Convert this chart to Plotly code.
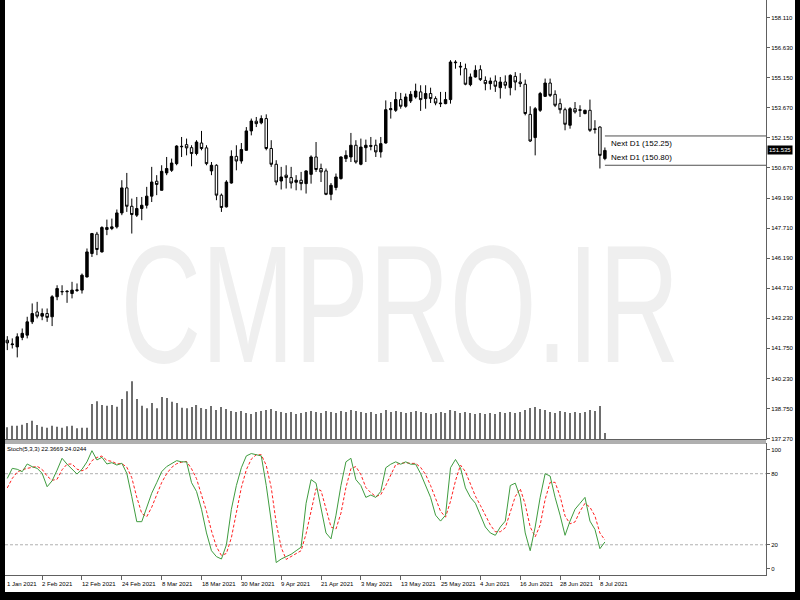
import plotly.graph_objects as go
import pandas as pd

# ---------------- data ----------------
open_ = [142.14,141.92,141.81,142.28,142.39,143.05,143.54,143.33,143.46,143.30,
         144.29,144.55,144.54,144.45,144.60,144.62,145.27,146.43,147.39,146.51,
         147.72,147.67,147.75,148.44,149.68,148.77,148.33,148.66,148.82,149.27,
         150.01,149.56,150.42,150.55,150.88,151.74,151.82,151.67,151.38,151.90,
         151.66,150.52,150.80,149.32,148.74,149.92,151.24,151.01,151.54,152.50,
         152.98,152.90,153.11,151.63,150.85,150.02,150.31,150.19,149.96,150.06,
         149.89,150.35,151.21,150.64,150.52,149.36,149.70,150.14,151.13,151.21,
         151.79,150.85,151.67,151.78,151.79,151.46,151.90,153.55,153.52,154.05,
         153.72,153.98,154.18,154.43,154.10,154.35,154.10,153.88,153.85,154.05,
         155.91,155.70,155.58,154.79,155.17,155.53,155.00,154.84,154.97,154.64,
         154.92,154.64,155.20,154.92,154.81,153.32,152.17,153.52,154.21,154.87,
         154.31,153.85,153.55,152.78,153.60,153.55,153.36,153.52,152.61,152.69,
         151.13]
high = [142.34,142.23,142.48,142.72,143.30,143.96,144.04,143.71,143.71,144.37,
        144.86,144.86,144.62,145.03,144.95,145.44,146.68,147.45,147.50,147.78,
        148.11,148.16,148.61,150.06,150.42,149.15,149.23,149.23,149.73,150.72,
        150.31,150.80,151.21,151.13,151.79,152.20,152.12,151.79,152.04,152.50,
        151.79,150.96,150.85,149.40,150.06,151.54,151.79,151.90,152.69,153.11,
        153.19,153.27,153.32,152.04,151.05,150.72,150.80,150.72,150.31,150.47,
        150.55,151.29,151.95,150.88,150.64,149.92,150.39,151.24,151.54,152.40,
        152.04,152.12,152.07,152.20,152.07,152.20,154.01,153.93,154.43,154.38,
        154.35,154.47,154.84,154.76,154.76,154.64,154.21,154.43,154.43,156.00,
        156.00,155.91,155.83,155.34,155.75,155.75,155.20,155.14,155.25,155.17,
        155.25,155.30,155.41,155.36,155.04,153.72,153.68,154.43,155.09,155.09,
        154.51,154.10,153.65,153.68,153.93,153.77,153.55,154.05,153.03,152.73,
        151.68]
low = [141.65,141.73,141.29,142.14,142.23,142.94,143.22,143.13,143.05,142.84,
       144.12,144.37,143.99,144.21,144.53,144.45,145.25,146.26,146.35,146.48,
       147.34,147.59,147.67,148.33,148.49,147.42,148.24,148.08,148.66,148.98,
       149.32,149.56,150.31,150.47,150.80,151.21,151.29,150.75,151.29,151.54,
       150.80,150.31,149.07,148.49,148.71,149.89,150.55,150.88,151.52,152.28,
       152.69,152.83,151.54,150.72,149.81,149.60,149.65,149.65,149.56,149.56,
       149.40,149.89,150.47,149.97,149.32,149.07,149.56,150.09,150.96,150.96,
       150.88,150.80,150.96,151.54,151.21,151.18,151.87,153.11,153.44,153.60,
       153.65,153.88,154.10,153.49,153.60,153.88,153.77,153.68,153.82,153.85,
       155.58,155.25,154.76,154.71,155.14,154.97,154.51,154.54,154.43,154.10,
       154.59,154.26,154.51,154.67,153.27,151.95,151.29,153.44,154.18,154.18,
       153.68,153.36,152.53,152.61,153.36,153.19,153.32,152.45,152.37,150.64,
       151.05]
close = [142.01,141.95,142.31,142.48,143.05,143.46,143.33,143.46,143.27,144.29,
         144.70,144.54,144.56,144.62,144.63,145.36,146.51,147.42,146.63,147.72,
         147.62,147.75,148.44,149.68,148.77,148.36,148.66,148.82,149.27,149.97,
         149.85,150.50,150.64,150.91,151.75,151.72,151.66,151.38,151.95,151.63,
         150.88,150.80,149.32,148.71,149.97,151.24,151.01,151.58,152.50,152.99,
         152.86,153.11,151.63,150.85,149.97,150.22,150.19,149.92,150.06,149.89,
         150.52,151.21,150.59,150.47,149.36,149.81,150.22,151.21,151.29,151.79,
         150.96,151.70,151.79,151.74,151.46,151.87,153.55,153.60,154.05,153.72,
         154.18,154.31,154.47,154.05,154.35,154.10,153.88,153.85,154.05,155.91,
         155.88,155.67,154.81,155.17,155.50,155.04,154.84,154.97,154.71,154.92,
         154.76,155.25,154.92,154.84,153.36,152.00,153.60,154.35,154.87,154.26,
         153.77,153.55,152.83,153.60,153.44,153.52,153.52,152.53,152.57,151.29,
         151.535]
volume = [11700,13300,13300,14300,16000,18300,14000,12300,11300,13300,
          12300,11300,12700,13300,10700,11300,11300,35000,37700,34000,
          33300,34000,32300,40000,47700,57700,40000,33300,30700,36000,
          30700,42000,41000,37300,36000,31300,30700,32000,34000,31000,
          30000,33000,29000,32000,30000,28000,27000,28000,26000,25000,
          27000,28000,29000,30000,28000,27000,26000,27000,25000,26000,
          27000,28000,27000,26000,28000,27000,26000,28000,27000,29000,
          28000,27000,26000,27000,25000,26000,29000,27000,28000,27000,
          26000,27000,28000,27000,26000,25000,26000,27000,26000,29000,
          28000,26000,27000,26000,25000,26000,25000,26000,25000,27000,
          26000,27000,26000,27000,29000,31000,32000,30000,29000,27000,
          26000,28000,27000,26000,27000,26000,27000,29000,28000,33000,
          6000]
stoch_k = [76,84.5,83.7,81.7,88.2,85.9,84.5,80.3,69,74,
           83,93,88,83.7,79.7,83.7,90,99.4,91.6,93.8,
           88.2,89.3,87.3,88.8,80.3,60.6,39.5,39.5,52,63.5,
           72.4,81.7,86,88.2,91,90,90,72.4,65,50,
           30,15,10,8,20,50,70,85,95,97,
           96,95,70,40,5,8,10,12,15,18,
           55,75,72,50,30,25,45,70,90,93,
           75,70,60,62,60,65,85,88,90,88,
           90,88,88,80,70,60,45,40,45,85,
           92,85,68,60,55,45,35,30,28,35,
           40,70,72,60,30,15,35,60,80,78,
           60,45,28,40,50,55,60,40,33,16.7,
           22.37]
stoch_d = [68,76,81.4,83.3,84.5,85.3,86.2,83.6,77.9,74.4,
           75.3,83.3,88,88.2,83.8,82.4,84.5,91,93.7,94.9,
           91.2,90.4,88.3,88.5,85.5,76.6,60.1,46.5,43.7,51.7,
           62.6,72.5,80,85.3,88.4,89.7,90.3,84.1,75.8,62.5,
           48.3,31.7,18.3,11,12.7,26,46.7,68.3,83.3,92.3,
           96,96,87,68.3,38.3,17.7,7.7,10,12.3,15,
           29.3,49.3,67.3,65.7,50.7,35,33.3,46.7,68.3,84.3,
           86,79.3,68.3,64,60.7,62.3,70,79.3,87.7,88.7,
           89.3,88.7,88.7,85.3,79.3,70,58.3,48.3,43.3,56.7,
           74,87.3,81.7,71,61,53.3,45,36.7,31,31,
           34.3,48.3,60.7,67.3,54,35,26.7,36.7,58.3,72.7,
           72.7,61,44.3,37.7,39.3,48.3,55,51.7,44.3,29.9,
           24.02]
price_tick_text = ["158.110","156.630","155.150","153.670","152.150","150.670",
                   "149.190","147.710","146.190","144.710","143.230","141.750",
                   "140.230","138.750","137.270"]
stoch_levels = [0, 20, 80, 100]
next_d1_levels = [152.25, 150.80]
first_date = "2021-01-22"
last_date = "2021-07-09"
label_dates = ["2021-02-02","2021-02-12","2021-02-24","2021-03-08","2021-03-18",
               "2021-03-30","2021-04-09","2021-04-21","2021-05-03","2021-05-13",
               "2021-05-25","2021-06-04","2021-06-16","2021-06-28","2021-07-08"]
stoch_title = "Stoch(5,3,3) 22.3669 24.0244"
watermark = "CMPRO.IR"

# --------------- geometry (figure px == paper, no margins) ---------------
W, H = 800, 600
def px_x(p): return p / W
def px_y(p): return 1 - p / H

PL, PR = 5, 766          # plot area left / right edge
dates = pd.bdate_range(first_date, last_date)
x = list(range(len(close)))
label_idx = [list(dates.strftime("%Y-%m-%d")).index(d) for d in label_dates]
label_txt = [f"{pd.Timestamp(d).day} {pd.Timestamp(d).strftime('%b %Y')}" for d in label_dates]

xdom = [px_x(PL), px_x(PR)]
main_dom = [px_y(439), 1]
stoch_dom = [px_y(575), px_y(443)]
ymin, ymax = 137.25, 158.98
n_int = len(price_tick_text) - 1
tickvals = [158.11 - i * (158.11 - 137.27) / n_int for i in range(len(price_tick_text))]

FONT = "Liberation Sans"
FS = 6
AX = "#606060"
fig = go.Figure()

fig.add_trace(go.Bar(x=x, y=volume, yaxis="y3", xaxis="x",
                     marker=dict(color="#6e6e6e", line=dict(width=0)),
                     width=0.22, hoverinfo="skip", showlegend=False))
fig.add_trace(go.Candlestick(x=x, open=open_, high=high, low=low, close=close,
                             increasing=dict(line=dict(color="black", width=1), fillcolor="black"),
                             decreasing=dict(line=dict(color="black", width=1), fillcolor="white"),
                             whiskerwidth=0, showlegend=False, xaxis="x", yaxis="y"))
fig.add_trace(go.Scatter(x=x, y=stoch_d, xaxis="x2", yaxis="y2", mode="lines",
                         line=dict(color="#ff2020", width=1, dash="3px,2px"),
                         showlegend=False, hoverinfo="skip"))
fig.add_trace(go.Scatter(x=x, y=stoch_k, xaxis="x2", yaxis="y2", mode="lines",
                         line=dict(color="#3f9c3f", width=1),
                         showlegend=False, hoverinfo="skip"))

xr = [-0.46, 152.35]
fig.update_layout(
    width=W, height=H, margin=dict(l=0, r=0, t=0, b=0, pad=0, autoexpand=False),
    paper_bgcolor="white", plot_bgcolor="rgba(0,0,0,0)",
    boxgap=0.3,
    font=dict(family=FONT, size=FS, color="black"),
    xaxis=dict(domain=xdom, range=xr, anchor="y", showticklabels=False, ticks="",
               showgrid=False, zeroline=False, rangeslider=dict(visible=False),
               showline=True, linecolor=AX, linewidth=1, mirror=False),
    yaxis=dict(domain=main_dom, range=[ymin, ymax], side="right", anchor="x", tickvals=tickvals,
               ticktext=price_tick_text, ticks="outside", ticklen=3, tickcolor=AX,
               showgrid=False, zeroline=False, showline=True, linecolor=AX,
               tickfont=dict(size=FS, family=FONT), automargin=False),
    yaxis3=dict(overlaying="y", range=[0, 439000], visible=False, showgrid=False),
    xaxis2=dict(domain=xdom, range=xr, anchor="y2", matches="x", tickvals=label_idx,
                showticklabels=False, ticks="outside", ticklen=4, tickcolor=AX,
                showgrid=False, zeroline=False, showline=True, linecolor=AX),
    yaxis2=dict(domain=stoch_dom, range=[-5.5, 105.9], side="right", anchor="x2",
                tickvals=stoch_levels, ticks="outside", ticklen=3, tickcolor=AX, showgrid=False,
                zeroline=False, showline=True, linecolor=AX,
                tickfont=dict(size=FS, family=FONT), automargin=False),
)

shapes = []
# watermark behind everything
shapes.append(dict(type="rect", xref="paper", yref="paper", x0=px_x(100), x1=px_x(700),
                   y0=px_y(352), y1=px_y(232), line=dict(width=0), layer="below",
                   label=dict(text=watermark, textposition="middle center",
                              font=dict(size=130, color="#efefef", family=FONT))))
# stoch levels
for lv in [20, 80]:
    shapes.append(dict(type="line", xref="paper", yref="y2", x0=xdom[0], x1=xdom[1], y0=lv, y1=lv,
                       line=dict(color="#b0b0b0", width=1, dash="3px,2px"), layer="below"))
# panel separators
for py in (441, 443):
    shapes.append(dict(type="line", xref="paper", yref="paper", x0=xdom[0], x1=xdom[1],
                       y0=px_y(py), y1=px_y(py), line=dict(color=AX, width=1)))
# next D1 lines
for lv in next_d1_levels:
    shapes.append(dict(type="line", xref="x", yref="y", x0=len(close) - 1, x1=xr[1],
                       y0=lv, y1=lv, line=dict(color="#505050", width=1)))

ann = []
# window frame (black border of the terminal window) as filled annotation boxes
for bx, by, xa, ya, bw, bh in [(0, 1, "left", "top", 5, 600),
                               (0, 0, "left", "bottom", 800, 8),
                               (1, 1, "right", "top", 5, 600)]:
    ann.append(dict(x=bx, y=by, xref="paper", yref="paper", xanchor=xa, yanchor=ya,
                    text=" ", showarrow=False, width=bw, height=bh, bgcolor="black",
                    borderpad=0, borderwidth=0, font=dict(size=1, color="black")))
for lv, txt, anc in [(next_d1_levels[0], f"Next D1 ({next_d1_levels[0]:.2f})", "top"),
                     (next_d1_levels[1], f"Next D1 ({next_d1_levels[1]:.2f})", "bottom")]:
    ann.append(dict(x=len(close) - 1 + 0.8, y=lv, xref="x", yref="y", text=txt, showarrow=False,
                    xanchor="left", yanchor=anc, yshift=(-1 if anc == "top" else 1),
                    font=dict(size=8, family=FONT, color="black")))
ann.append(dict(x=px_x(PR), y=close[-1], xref="paper", yref="y", text=f"{close[-1]:.3f}",
                showarrow=False, xanchor="left", yanchor="middle", xshift=1, bgcolor="black",
                font=dict(size=FS, family=FONT, color="white"), borderpad=1))
ann.append(dict(x=px_x(PL), y=1, xref="paper", yref="y2 domain", text=stoch_title, showarrow=False,
                xanchor="left", yanchor="top", xshift=0, yshift=-1,
                font=dict(size=FS, family=FONT, color="black")))
ann.append(dict(x=px_x(PL), y=px_y(575), xref="paper", yref="paper", text="1 Jan 2021",
                showarrow=False, xanchor="left", yanchor="top", xshift=0, yshift=-4,
                font=dict(size=FS, family=FONT, color="black")))
for xi, t in zip(label_idx, label_txt):
    ann.append(dict(x=xi, y=px_y(575), xref="x2", yref="paper", text=t, showarrow=False,
                    xanchor="left", yanchor="top", xshift=-2, yshift=-4,
                    font=dict(size=FS, family=FONT, color="black")))

fig.update_layout(shapes=shapes, annotations=ann)

post = """
document.body.style.margin = '0';
var ts = document.querySelectorAll('text');
ts.forEach(function(t){
  if (t.textContent === '%s') {
    t.style.transformBox = 'fill-box';
    t.style.transformOrigin = 'center';
    t.style.transform = 'scale(0.86,1.29)';
  }
});
""" % watermark
fig.write_html("out.html", post_script=post, config={"displayModeBar": False})
